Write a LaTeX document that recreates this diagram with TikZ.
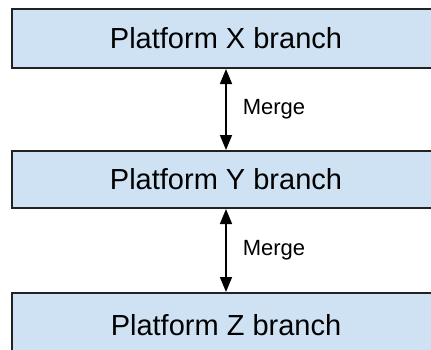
\documentclass[tikz,border=0pt]{standalone}
\usepackage{fontspec}
\setmainfont{Liberation Sans}
\usetikzlibrary{arrows.meta}
\definecolor{boxfill}{HTML}{CFE2F3}
\definecolor{boxline}{HTML}{222222}
\tikzset{
  branch/.style={draw=boxline, line width=2pt, fill=boxfill,
    minimum width=428pt, inner sep=0pt, font=\fontsize{29}{34}\selectfont},
  mergearrow/.style={line width=1.6pt, draw=black,
    {Triangle[length=15pt,width=12pt]}-{Triangle[length=15pt,width=12pt]}},
  mergelabel/.style={font=\fontsize{22}{26}\selectfont, anchor=west, inner sep=0pt}
}
\begin{document}
\begin{tikzpicture}[x=1pt,y=1pt]
  \useasboundingbox (0,0) rectangle (431,349);
  \fill[white] (0,0) rectangle (431,349);
  \node[branch, minimum height=59pt] (px) at (226,310.5) {Platform X branch};
  \node[branch, minimum height=57pt] (py) at (226,169.5) {Platform Y branch};
  \node[branch, minimum height=64pt] (pz) at (226,24) {Platform Z branch};
  \draw[mergearrow] (px.south) -- (py.north)
    node[mergelabel, midway, xshift=16pt] (m1) {Merge};
  \draw[mergearrow] (py.south) -- (pz.north)
    node[mergelabel, midway, xshift=16pt] (m2) {Merge};
\end{tikzpicture}
\end{document}
